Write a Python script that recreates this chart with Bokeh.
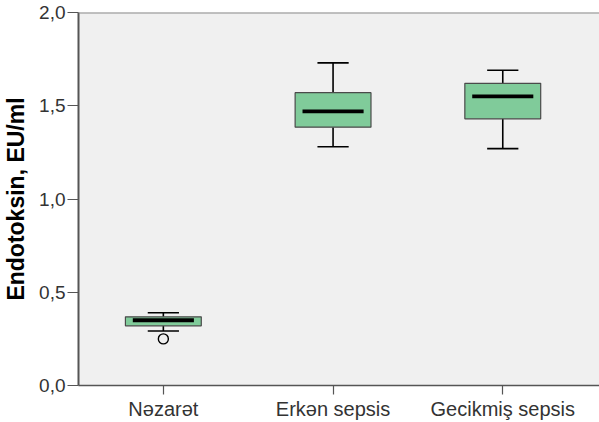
from bokeh.plotting import figure
from bokeh.models import Range1d, FixedTicker, Span, ColumnDataSource
from bokeh.embed import file_html
from bokeh.resources import INLINE

categories = ["Nəzarət", "Erkən sepsis", "Gecikmiş sepsis"]
q1 = [0.320, 1.385, 1.430]
median = [0.350, 1.470, 1.550]
q3 = [0.368, 1.570, 1.620]
lower = [0.292, 1.280, 1.270]
upper = [0.390, 1.730, 1.690]
outlier_cat = [0]
outlier_val = [0.250]
y_ticks = [0.0, 0.5, 1.0, 1.5, 2.0]
y_tick_labels = ["0,0", "0,5", "1,0", "1,5", "2,0"]

pos = list(range(len(categories)))
BOX_W = 0.447
MED_W = 0.36
CAP_W = 0.184

src = ColumnDataSource(dict(x=pos, q1=q1, q3=q3, med=median, lo=lower, hi=upper,
                            cap_l=[x - CAP_W / 2 for x in pos], cap_r=[x + CAP_W / 2 for x in pos],
                            med_l=[x - MED_W / 2 for x in pos], med_r=[x + MED_W / 2 for x in pos]))

p = figure(width=599, height=422, output_backend="svg", toolbar_location=None,
           x_range=Range1d(-0.5, 2.57), y_range=Range1d(0, 2.0),
           min_border_left=77, min_border_top=12, min_border_right=0, min_border_bottom=30)
p.background_fill_color = "#f0f0f0"
p.border_fill_color = "white"
p.outline_line_color = None
p.xgrid.grid_line_color = None
p.ygrid.grid_line_color = None

# whisker stems
p.segment(x0="x", y0="q3", x1="x", y1="hi", source=src, line_color="black", line_width=1.6)
p.segment(x0="x", y0="lo", x1="x", y1="q1", source=src, line_color="black", line_width=1.6)
# caps
p.segment(x0="cap_l", y0="hi", x1="cap_r", y1="hi", source=src, line_color="black", line_width=1.6)
p.segment(x0="cap_l", y0="lo", x1="cap_r", y1="lo", source=src, line_color="black", line_width=1.6)
# boxes
p.vbar(x="x", width=BOX_W, bottom="q1", top="q3", source=src,
       fill_color="#80CB9A", line_color="#4a4a4a", line_width=1.2)
# medians
p.segment(x0="med_l", y0="med", x1="med_r", y1="med", source=src, line_color="black", line_width=3.8)
# outliers
p.scatter(x=outlier_cat, y=outlier_val, size=10, marker="circle",
          fill_color="#f0f0f0", line_color="black", line_width=1.4)

# top frame line
p.add_layout(Span(location=2.0, dimension="width", line_color="#8a8a8a", line_width=2))

# axes
p.xaxis.ticker = FixedTicker(ticks=pos)
p.xaxis.major_label_overrides = {i: c for i, c in enumerate(categories)}
p.yaxis.ticker = FixedTicker(ticks=y_ticks)
p.yaxis.major_label_overrides = {t: l for t, l in zip(y_ticks, y_tick_labels)}

for ax in (p.xaxis, p.yaxis):
    ax.axis_line_color = "#555555"
    ax.major_tick_line_color = "#555555"
    ax.minor_tick_line_color = None
    ax.major_tick_in = 0
    ax.major_label_text_font = "Liberation Sans"
    ax.major_label_text_color = "#333333"

p.yaxis.axis_line_width = 2
p.yaxis.major_tick_out = 11
p.yaxis.major_tick_line_width = 1.2
p.yaxis.major_label_standoff = 2
p.yaxis.major_label_text_font_size = "19px"
p.yaxis.axis_label = "Endotoksin, EU/ml"
p.yaxis.axis_label_text_font = "Liberation Sans"
p.yaxis.axis_label_text_font_style = "bold"
p.yaxis.axis_label_text_font_size = "23px"
p.yaxis.axis_label_text_color = "black"
p.yaxis.axis_label_standoff = 7

p.xaxis.axis_line_width = 1.5
p.xaxis.major_tick_out = 9
p.xaxis.major_tick_line_width = 1.2
p.xaxis.major_label_standoff = 3
p.xaxis.major_label_text_font_size = "20px"

open("out.html", "w").write(file_html(p, INLINE))
